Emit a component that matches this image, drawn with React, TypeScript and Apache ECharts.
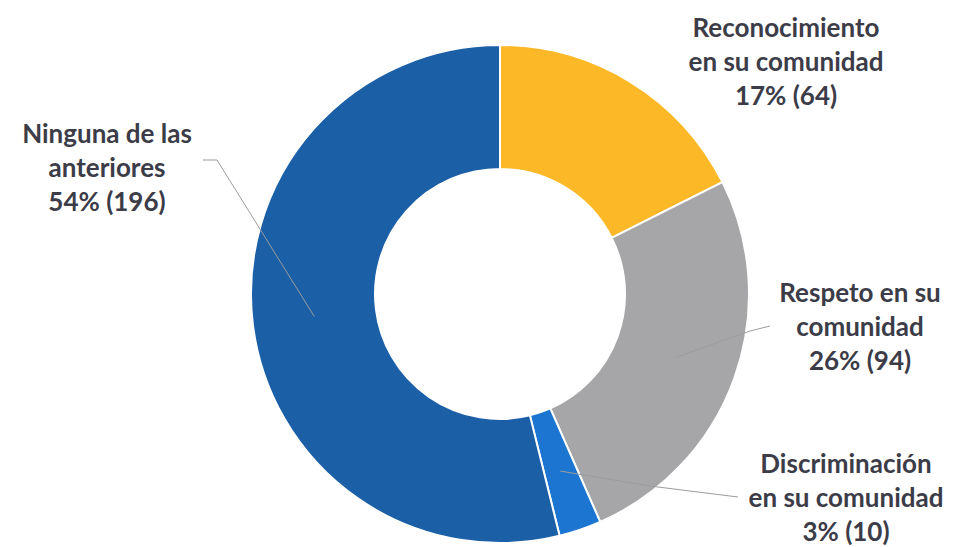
import React, { useEffect, useRef } from "react";
import * as echarts from "echarts";

const categories = [
  "Reconocimiento\nen su comunidad",
  "Respeto en su\ncomunidad",
  "Discriminación\nen su comunidad",
  "Ninguna de las\nanteriores",
];
const values = [64, 94, 10, 196];
const percents = [17, 26, 3, 54];
const colors = ["#FDB827", "#A6A6A8", "#1C76D1", "#1B5FA7"];

// layout (pixels)
const CENTER = [500, 294];
const R_IN = 125;
const R_OUT = 249;
const labelPos = [
  { x: 786, y: 61 },
  { x: 860, y: 326 },
  { x: 846, y: 497 },
  { x: 107, y: 167 },
];
// line waypoints after the slice centroid (null = no line)
const lineWays: (number[][] | null)[] = [
  null,
  [[750, 331], [770, 326]],
  [[650, 486], [738, 497]],
  [[217, 160], [203, 160]],
];

export default function App() {
  const ref = useRef<HTMLDivElement>(null);
  useEffect(() => {
    document.body.style.margin = "0";
    const chart = echarts.init(ref.current!, null, { renderer: "svg" });
    const total = values.reduce((a, b) => a + b, 0);
    const mids: number[] = [];
    let acc = 0;
    values.forEach((v) => {
      mids.push(((acc + v / 2) / total) * Math.PI * 2);
      acc += v;
    });
    const rMid = (R_IN + R_OUT) / 2;
    const baseData = categories.map((c, i) => ({ name: c, value: values[i] }));
    chart.setOption({
      animation: false,
      series: [
        {
          type: "pie",
          center: CENTER,
          radius: [R_IN, R_OUT],
          startAngle: 90,
          clockwise: true,
          silent: true,
          itemStyle: { borderColor: "#ffffff", borderWidth: 2 },
          label: { show: false },
          labelLine: { show: false },
          data: baseData.map((d, i) => ({ ...d, itemStyle: { color: colors[i] } })),
        },
        {
          type: "pie",
          z: 5,
          center: CENTER,
          radius: [R_IN, R_OUT],
          startAngle: 90,
          clockwise: true,
          silent: true,
          itemStyle: { color: "rgba(0,0,0,0)", borderWidth: 0 },
          label: {
            show: true,
            color: "#3c3c48",
            fontFamily: "Lato",
            fontWeight: "bold",
            fontSize: 26,
            lineHeight: 34,
            align: "center",
            overflow: "none",
          },
          labelLine: { show: true, lineStyle: { color: "#9c9c9c", width: 1 } },
          data: baseData.map((d, i) => ({
            ...d,
            label: { formatter: `${categories[i]}\n${percents[i]}% (${values[i]})` },
            labelLine: { show: lineWays[i] !== null },
          })),
          labelLayout: (p: any) => {
            const i = p.dataIndex;
            const res: any = {
              x: labelPos[i].x,
              y: labelPos[i].y,
              align: "center",
              verticalAlign: "middle",
            };
            const w = lineWays[i];
            if (w) {
              const a = mids[i];
              const start = [CENTER[0] + rMid * Math.sin(a), CENTER[1] - rMid * Math.cos(a)];
              res.labelLinePoints = [start, w[0], w[1]];
            }
            return res;
          },
        },
      ],
    });
    return () => chart.dispose();
  }, []);
  return <div ref={ref} style={{ width: 956, height: 547 }} />;
}
